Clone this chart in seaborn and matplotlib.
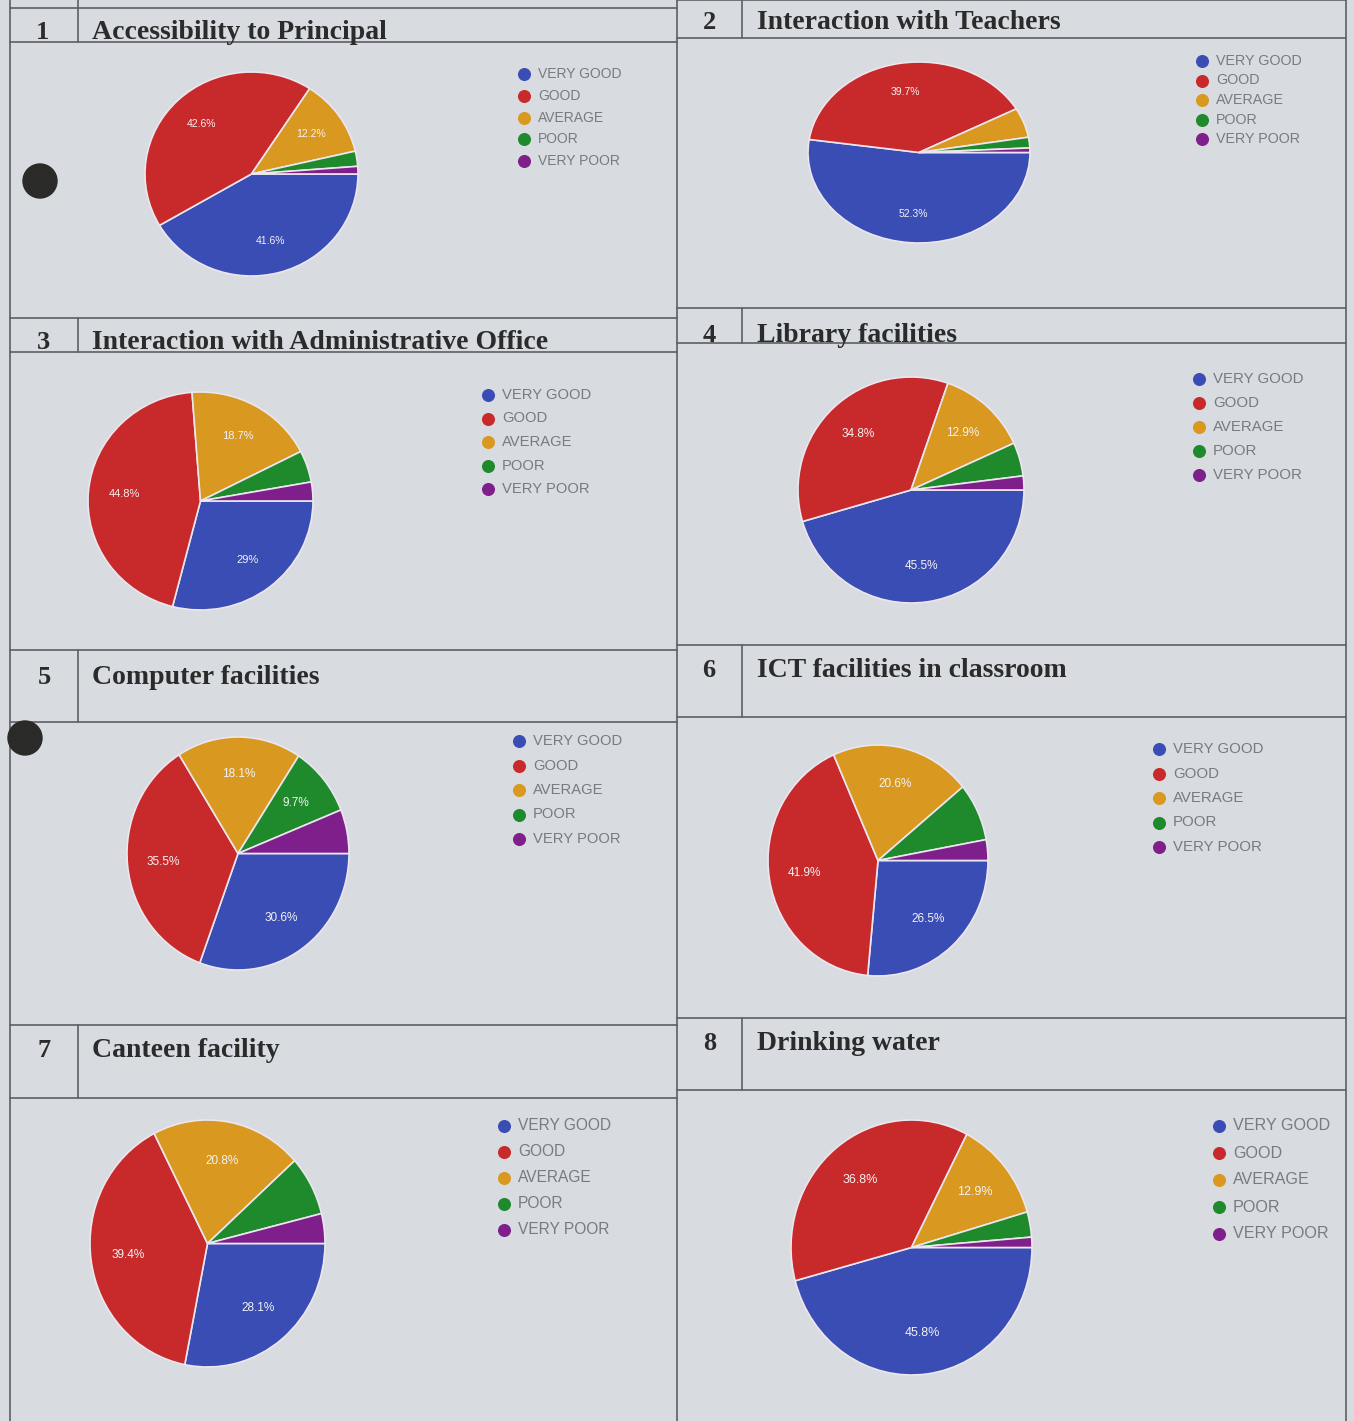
import matplotlib
matplotlib.use('Agg')
import matplotlib.pyplot as plt
import seaborn as sns

# data
categories = ['VERY GOOD', 'GOOD', 'AVERAGE', 'POOR', 'VERY POOR']
numbers = [1, 2, 3, 4, 5, 6, 7, 8]
titles = ['Accessibility to Principal', 'Interaction with Teachers',
          'Interaction with Administrative Office', 'Library facilities',
          'Computer facilities', 'ICT facilities in classroom',
          'Canteen facility', 'Drinking water']
principal = [41.6, 42.6, 12.2, 2.4, 1.2]
teachers = [52.3, 39.7, 5.3, 1.9, 0.8]
admin = [29.0, 44.8, 18.7, 4.7, 2.8]
library = [45.5, 34.8, 12.9, 4.8, 2.0]
computer = [30.6, 35.5, 18.1, 9.7, 6.1]
ict = [26.5, 41.9, 20.6, 8.1, 2.9]
canteen = [28.1, 39.4, 20.8, 7.8, 3.9]
water = [45.8, 36.8, 12.9, 3.2, 1.3]
series = [principal, teachers, admin, library, computer, ict, canteen, water]

sns.set_style('white')
plt.rcParams['font.family'] = ['Liberation Sans', 'DejaVu Sans']
colors = sns.color_palette(['#3a4db5', '#c8292a', '#d9981f', '#1f8a2c', '#7e1f8c'])

W, H = 1354, 1421
bgcol = '#d8dbdf'
fig = plt.figure(figsize=(W / 100, H / 100), dpi=100, facecolor=bgcol)
bg = fig.add_axes([0, 0, 1, 1])
bg.set_xlim(0, W)
bg.set_ylim(H, 0)
bg.axis('off')

# table grid (pixel coords of the photo)
lc = '#5c5f64'
bg.plot([10, 10], [0, H], color=lc, lw=1.2)
bg.plot([677, 677], [0, H], color=lc, lw=1.2)
bg.plot([1346, 1346], [0, H], color=lc, lw=1.2)
left_rows = [(8, 42), (318, 352), (650, 722), (1025, 1098)]
right_rows = [(0, 38), (308, 343), (645, 717), (1018, 1090)]
for top, bot in left_rows:
    bg.plot([10, 677], [top, top], color=lc, lw=1.2)
    bg.plot([10, 677], [bot, bot], color=lc, lw=1.2)
    bg.plot([78, 78], [top, bot], color=lc, lw=1.2)
bg.plot([78, 78], [0, 8], color=lc, lw=1.2)
for top, bot in right_rows:
    bg.plot([677, 1346], [top, top], color=lc, lw=1.2)
    bg.plot([677, 1346], [bot, bot], color=lc, lw=1.2)
    bg.plot([742, 742], [top, bot], color=lc, lw=1.2)

# header text
head_pos = [(43, 92, 39), (709, 757, 29), (43, 92, 349), (709, 757, 342),
            (44, 92, 684), (709, 757, 677), (44, 92, 1057), (710, 757, 1050)]
for (nx, tx, by), num, title in zip(head_pos, numbers, titles):
    bg.text(nx, by, str(num), ha='center', va='baseline', fontsize=19,
            fontweight='bold', family='Liberation Serif', color='#2b2b2b')
    bg.text(tx, by, title, ha='left', va='baseline', fontsize=20,
            fontweight='bold', family='Liberation Serif', color='#2b2b2b')

# punch holes
for cx, cy in [(40, 181), (25, 738)]:
    bg.add_patch(plt.Circle((cx, cy), 17, color='#2a2a28', zorder=5))

pie_boxes = [(145, 72, 358, 276), (808, 62, 1030, 243), (88, 392, 313, 610),
             (798, 377, 1024, 603), (127, 737, 349, 970), (768, 745, 988, 976),
             (90, 1120, 325, 1367), (791, 1120, 1032, 1375)]
legend_pos = [(524, 74, 21.8, 10.0), (1202, 61, 19.5, 10.3), (488, 395, 23.5, 10.6),
              (1199, 379, 24.0, 10.8), (519, 741, 24.5, 10.6), (1159, 749, 24.5, 10.8),
              (504, 1126, 26.0, 11.2), (1219, 1126, 27.0, 11.6)]
label_size = [7.5, 7.5, 8, 8.5, 8.5, 8.5, 8.5, 9]


def pct_fmt(p):
    if p < 9:
        return ''
    return f'{round(p, 1):g}%'


for vals, (x0, y0, x1, y1), (lx, ly, sp, fs), ls in zip(series, pie_boxes, legend_pos, label_size):
    ax = fig.add_axes([x0 / W, 1 - y1 / H, (x1 - x0) / W, (y1 - y0) / H])
    wedges, texts, autos = ax.pie(vals, colors=colors, startangle=0, counterclock=False,
                                  autopct=pct_fmt, pctdistance=0.68,
                                  wedgeprops=dict(edgecolor='#ece6ee', linewidth=1.2),
                                  textprops=dict(color='#f4f2f2', fontsize=ls))
    ax.set_aspect('auto')
    ax.set_xlim(-1.0, 1.0)
    ax.set_ylim(-1.0, 1.0)
    ax.axis('off')
    for i, (cat, c) in enumerate(zip(categories, colors)):
        yy = ly + i * sp
        bg.scatter([lx], [yy], s=70, color=c, zorder=4)
        bg.text(lx + 14, yy, cat, ha='left', va='center', fontsize=fs, color='#777b80')

plt.savefig('out.png', dpi=100, facecolor=bgcol)
